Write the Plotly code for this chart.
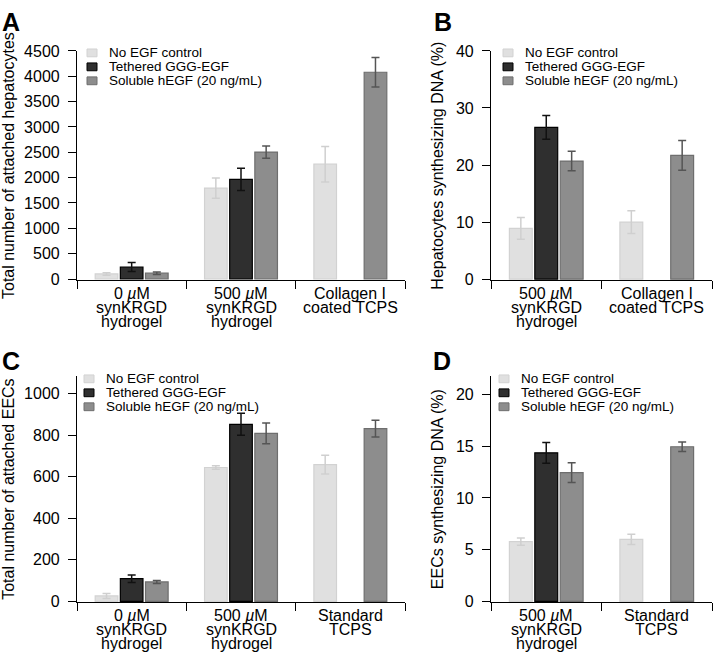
import plotly.graph_objects as go

# ---------------- data ----------------
series_names = ["No EGF control", "Tethered GGG-EGF", "Soluble hEGF (20 ng/mL)"]

cats_A = ["0 <i>µ</i>M<br>synKRGD<br>hydrogel", "500 <i>µ</i>M<br>synKRGD<br>hydrogel", "Collagen I<br>coated TCPS"]
A_none = [100, 1795, 2265]
A_none_err = [25, 200, 350]
A_teth = [237, 1965, None]
A_teth_err = [90, 220, 0]
A_sol = [115, 2505, 4080]
A_sol_err = [25, 120, 290]

cats_B = ["500 <i>µ</i>M<br>synKRGD<br>hydrogel", "Collagen I<br>coated TCPS"]
B_none = [8.9, 10.0]
B_none_err = [1.9, 2.0]
B_teth = [26.6, None]
B_teth_err = [2.1, 0]
B_sol = [20.7, 21.7]
B_sol_err = [1.7, 2.6]

cats_C = ["0 <i>µ</i>M<br>synKRGD<br>hydrogel", "500 <i>µ</i>M<br>synKRGD<br>hydrogel", "Standard<br>TCPS"]
C_none = [26, 644, 658]
C_none_err = [12, 8, 45]
C_teth = [109, 852, None]
C_teth_err = [18, 53, 0]
C_sol = [93, 808, 831]
C_sol_err = [7, 50, 40]

cats_D = ["500 <i>µ</i>M<br>synKRGD<br>hydrogel", "Standard<br>TCPS"]
D_none = [5.77, 5.99]
D_none_err = [0.35, 0.5]
D_teth = [14.36, None]
D_teth_err = [1.0, 0]
D_sol = [12.45, 14.95]
D_sol_err = [0.95, 0.45]

# ---------------- styles ----------------
FONT = "Liberation Sans, Arial, Helvetica, sans-serif"
TICK_FS = 16
LEG_FS = 13.5
fills = ["#e0e0e0", "#2f2f2f", "#8d8d8d"]
edges = ["#d2d2d2", "#000000", "#6e6e6e"]
errc = ["#cfcfcf", "#111111", "#555555"]

W, H = 714, 664
def xd(a, b):
    return [a / W, b / W]
def yd(top, bot):
    return [1 - bot / H, 1 - top / H]
def px(v):
    return v / W
def py(v):
    return 1 - v / H

fig = go.Figure()

# (categories, series, xaxis, yaxis, axis bottom px, legend swatch-left px, legend top-row px)
panels = [
    (cats_A, [(A_none, A_none_err), (A_teth, A_teth_err), (A_sol, A_sol_err)], "x", "y", 279, 87, 46),
    (cats_B, [(B_none, B_none_err), (B_teth, B_teth_err), (B_sol, B_sol_err)], "x2", "y2", 279, 503, 46),
    (cats_C, [(C_none, C_none_err), (C_teth, C_teth_err), (C_sol, C_sol_err)], "x3", "y3", 609, 84, 380),
    (cats_D, [(D_none, D_none_err), (D_teth, D_teth_err), (D_sol, D_sol_err)], "x4", "y4", 609, 499, 380),
]

for cats, series, xa, ya, xbot, lgx, lgy in panels:
    for i, (vals, errs) in enumerate(series):
        fig.add_trace(go.Bar(
            x=cats, y=vals, name=series_names[i],
            xaxis=xa, yaxis=ya, showlegend=False,
            marker=dict(color=fills[i], line=dict(color=edges[i], width=1.2)),
            error_y=dict(type="data", array=errs, visible=True, color=errc[i],
                         thickness=1.5, width=4),
        ))
    # multi-line category labels, tight leading as in the reference
    for ci, lab in enumerate(cats):
        for li, line in enumerate(lab.split("<br>")):
            fig.add_annotation(text=line, xref=xa, yref="paper", x=ci,
                               y=py(xbot + 13.5 + 14.5 * li), yanchor="middle",
                               xanchor="center", showarrow=False,
                               font=dict(family=FONT, size=TICK_FS, color="black"))
    # legend (swatches + labels)
    for i, nm in enumerate(series_names):
        cy = lgy + 14.3 * i
        fig.add_shape(type="rect", xref="paper", yref="paper",
                      x0=px(lgx), x1=px(lgx + 10), y0=py(cy - 4), y1=py(cy + 4),
                      fillcolor=fills[i], line=dict(color=edges[i], width=1))
        fig.add_annotation(text=nm, xref="paper", yref="paper", x=px(lgx + 20), y=py(cy),
                           xanchor="left", yanchor="middle", showarrow=False,
                           font=dict(family=FONT, size=LEG_FS, color="black"))

axis_common = dict(showline=True, linecolor="black", linewidth=1.2, ticks="outside",
                   ticklen=8, tickcolor="black", tickwidth=1.2, showgrid=False,
                   zeroline=False, tickfont=dict(family=FONT, size=TICK_FS, color="black"))
xcommon = dict(axis_common, type="category", tickson="boundaries", showticklabels=False)
ycommon = dict(axis_common, ticklabelstandoff=5)

title_font = dict(family=FONT, size=TICK_FS, color="black")

layout = dict(
    width=W, height=H, margin=dict(l=0, r=0, t=0, b=0),
    paper_bgcolor="white", plot_bgcolor="white",
    barmode="group", bargap=0.31, bargroupgap=0.1, showlegend=False,
    font=dict(family=FONT, size=TICK_FS, color="black"),
    xaxis=dict(xcommon, domain=xd(77, 405), anchor="y"),
    yaxis=dict(ycommon, domain=yd(44, 279), anchor="x", range=[-25, 4500],
               tickvals=[0, 500, 1000, 1500, 2000, 2500, 3000, 3500, 4000, 4500],
               title=dict(text="Total number of attached hepatocytes", standoff=7,
                          font=title_font)),
    xaxis2=dict(xcommon, domain=xd(491, 712), anchor="y2"),
    yaxis2=dict(ycommon, domain=yd(44, 279), anchor="x2", range=[-0.2, 40],
                tickvals=[0, 10, 20, 30, 40],
                title=dict(text="Hepatocytes synthesizing DNA (%)", standoff=8,
                           font=title_font)),
    xaxis3=dict(xcommon, domain=xd(77, 405), anchor="y3"),
    yaxis3=dict(ycommon, domain=yd(377, 609), anchor="x3", range=[-5, 1085],
                tickvals=[0, 200, 400, 600, 800, 1000],
                title=dict(text="Total number of attached EECs", standoff=7,
                           font=title_font)),
    xaxis4=dict(xcommon, domain=xd(491, 712), anchor="y4"),
    yaxis4=dict(ycommon, domain=yd(377, 609), anchor="x4", range=[-0.1, 21.8],
                tickvals=[0, 5, 10, 15, 20],
                title=dict(text="EECs synthesizing DNA (%)", standoff=8,
                           font=title_font)),
)
fig.update_layout(**layout)

for txt, x, y in [("A", 0, 14), ("B", 432, 14), ("C", 0, 362), ("D", 431, 362)]:
    fig.add_annotation(text="<b>%s</b>" % txt, xref="paper", yref="paper",
                       x=x / W, y=1 - y / H, xanchor="left", yanchor="middle",
                       showarrow=False, font=dict(family=FONT, size=25, color="black"))

fig.write_html("out.html", config={"displayModeBar": False},
               post_script="document.body.style.margin='0';document.body.style.overflow='hidden';")
